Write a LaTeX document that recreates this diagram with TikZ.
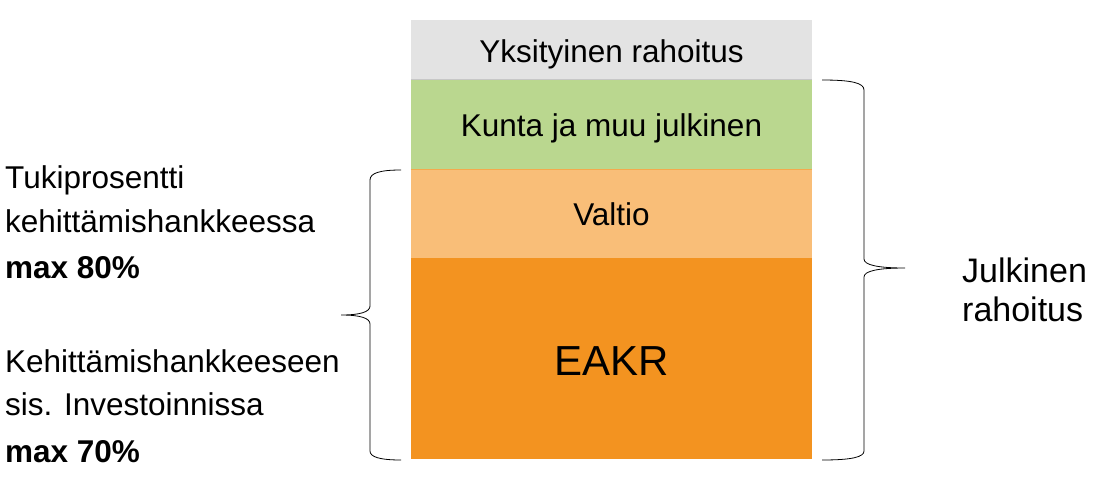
\documentclass[tikz,border=0pt]{standalone}
\usepackage{fontspec}
\setmainfont{Liberation Sans}
\definecolor{cgray}{HTML}{E3E3E3}
\definecolor{cgreen}{HTML}{BAD78F}
\definecolor{clorange}{HTML}{F9BE78}
\definecolor{corange}{HTML}{F39320}
\begin{document}
\begin{tikzpicture}[x=1pt,y=-1pt,
  block/.style={rectangle,inner sep=0pt,minimum width=401pt,draw=none},
  lbl/.style={inner sep=0pt,anchor=base,font=\fontsize{31.5}{45}\selectfont},
  side/.style={inner sep=0pt,anchor=base west,font=\fontsize{31.5}{45}\selectfont},
  big/.style={inner sep=0pt,anchor=base,font=\fontsize{42}{50}\selectfont},
  jul/.style={inner sep=0pt,anchor=base west,font=\fontsize{34}{40}\selectfont},
  brace/.style={draw=black,line width=0.8pt}]
\path[use as bounding box,fill=white] (0,0) rectangle (1097,480);
% stacked blocks
\node[block,fill=cgray,minimum height=59pt] (yks) at (611.5,49.5) {};
\node[block,fill=cgreen,minimum height=90pt] (kun) at (611.5,124) {};
\node[block,fill=clorange,minimum height=89pt] (val) at (611.5,213.5) {};
\node[block,fill=corange,minimum height=201pt] (eakr) at (611.5,358.5) {};
\draw[color=black!22,line width=0.8pt] (yks.south west) -- (yks.south east);
\draw[color=corange!80,line width=0.8pt] (kun.south west) -- (kun.south east);
% block labels
\node[lbl] (tyks) at (611.5,62) {Yksityinen rahoitus};
\node[lbl] (tkun) at (611.5,136) {Kunta ja muu julkinen};
\node[lbl] (tval) at (611.5,225) {Valtio};
\node[big] (teakr) at (611.5,375) {EAKR};
% right brace
\draw[brace] (822,80) .. controls (852,80) and (864,83) .. (864,90)
  -- (864,259) .. controls (864,265) and (878,268) .. (905,268)
  .. controls (878,268) and (864,271) .. (864,277)
  -- (864,451) .. controls (864,457) and (852,460) .. (822,460);
% left brace
\draw[brace] (401,170) .. controls (380,170) and (370,173) .. (370,180)
  -- (370,306) .. controls (370,312) and (360,315) .. (341,315)
  .. controls (360,315) and (370,318) .. (370,324)
  -- (370,451) .. controls (370,457) and (380,460) .. (401,460);
% right text
\node[jul] (j1) at (962,282) {Julkinen};
\node[jul] (j2) at (962,321) {rahoitus};
% left text
\node[side] (l1) at (5,188) {Tukiprosentti};
\node[side] (l2) at (5,232) {kehittämishankkeessa};
\node[side] (l3) at (5,278) {\bfseries max 80\%};
\node[side] (l4) at (5,372) {Kehittämishankkeeseen};
\node[side] (l5) at (5,415) {sis. Investoinnissa};
\node[side] (l6) at (5,462) {\bfseries max 70\%};
\end{tikzpicture}
\end{document}
